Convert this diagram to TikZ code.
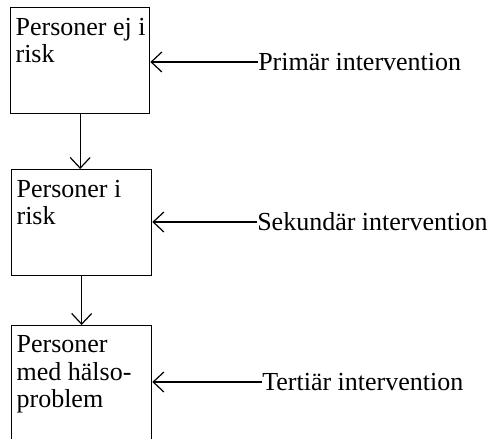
\documentclass[tikz,border=0pt]{standalone}
\usepackage{fontspec}
\setmainfont{Liberation Serif}
\usetikzlibrary{arrows.meta}

\begin{document}
\begin{tikzpicture}[x=0.75pt,y=0.75pt,yscale=-1,xscale=1,
  box/.style={draw,line width=1pt,rectangle,anchor=north west,inner sep=0pt},
  boxtext/.style={anchor=north west,align=left,inner xsep=4pt,inner ysep=8pt,font=\fontsize{19.5}{20.3}\selectfont},
  steptext/.style={anchor=west,inner sep=0pt,font=\fontsize{19.5}{20.3}\selectfont},
  arr/.style={line width=0.9pt,-{Straight Barb[length=8pt,width=15pt,line width=0.9pt]}}]
\useasboundingbox (0,0) rectangle (489,439);
\clip (0,0) rectangle (489,439);

%Shape: Rectangle
\node[box,minimum width=104.25pt,minimum height=79.5pt] (ejrisk) at (10,7) {};
%Shape: Rectangle
\node[box,minimum width=105pt,minimum height=79.5pt] (irisk) at (11,169) {};
%Shape: Rectangle
\node[box,minimum width=105pt,minimum height=97pt] (problem) at (11,325) {};

% Text Node
\node[boxtext] at (ejrisk.north west) {Personer ej i\\risk};
% Text Node
\node[boxtext] at (irisk.north west) {Personer i\\risk};
% Text Node
\node[boxtext] at (problem.north west) {Personer\\med hälso-\\problem};

% Text Node
\node[steptext] (primar) at (258,62) {Primär intervention};
% Text Node
\node[steptext] (sekundar) at (257,222) {Sekundär intervention};
% Text Node
\node[steptext] (tertiar) at (262,382) {Tertiär intervention};

%Straight Lines
\draw[arr] (ejrisk.south) -- (ejrisk.south |- irisk.north);
\draw[arr] (irisk.south) -- (irisk.south |- problem.north);
\draw[arr] (primar.west) -- (primar.west -| ejrisk.east);
\draw[arr] (sekundar.west) -- (sekundar.west -| irisk.east);
\draw[arr] (tertiar.west) -- (tertiar.west -| problem.east);

\end{tikzpicture}
\end{document}
